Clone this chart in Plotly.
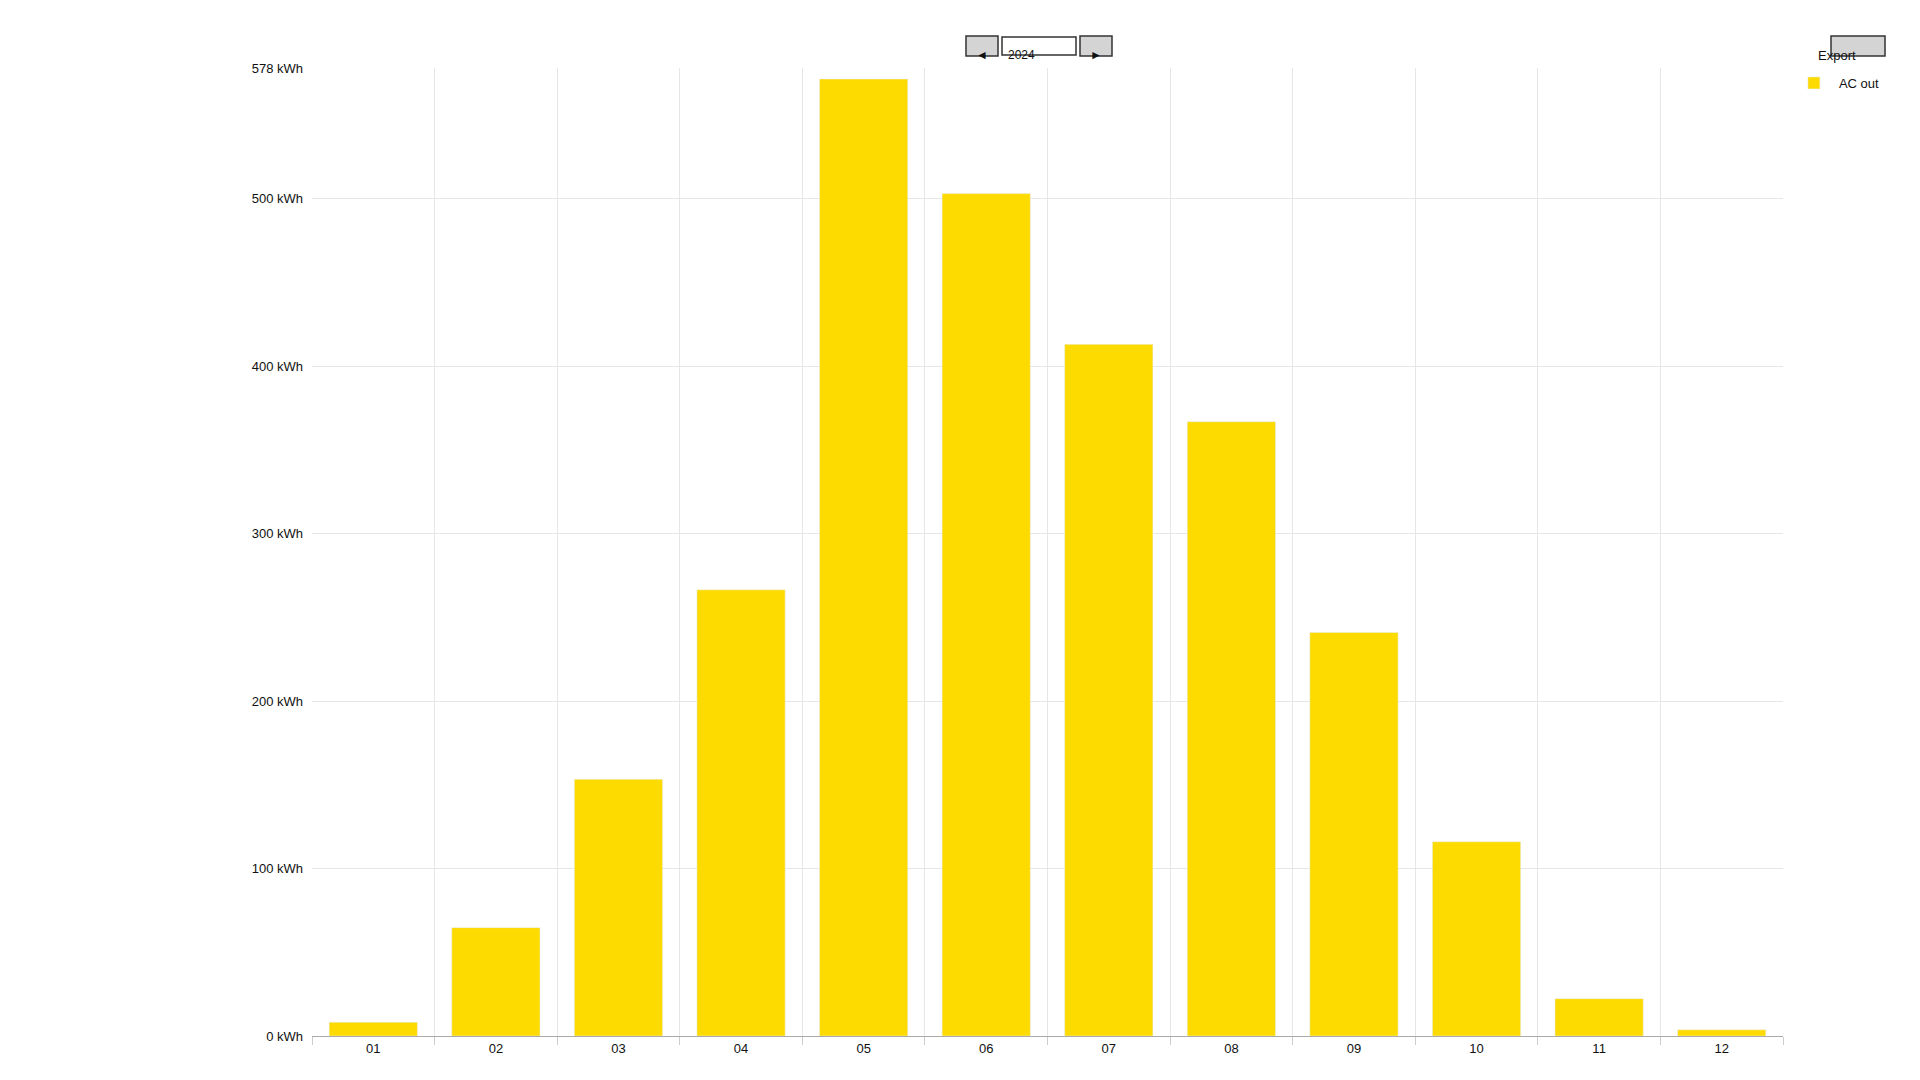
import plotly.graph_objects as go

months = ["01","02","03","04","05","06","07","08","09","10","11","12"]
ac_out = [8.2, 64.7, 153.3, 266.4, 571.4, 503, 413, 366.8, 241, 116, 22.3, 3.7]
y_ticks = [0, 100, 200, 300, 400, 500, 578]
y_labels = [f"{v} kWh" for v in y_ticks]

xs = list(range(1, len(months) + 1))
bounds = [i + 0.5 for i in range(0, len(months) + 1)]

fig = go.Figure(go.Bar(x=xs, y=ac_out, name="AC out", marker_color="#FEDB00",
                       width=0.72, showlegend=True))

fig.update_layout(
    width=1920, height=1080, paper_bgcolor="white", plot_bgcolor="white",
    margin=dict(l=304, r=145, t=60, b=52),
    font=dict(family="Liberation Sans, Arial", size=13, color="#111"),
    showlegend=True,
    legend=dict(x=1.004, y=1.0, xanchor="left", yanchor="top", font=dict(size=13),
                itemwidth=40, bgcolor="rgba(0,0,0,0)"),
    xaxis=dict(range=[0.5, 12.5], tickvals=xs, ticktext=months, showgrid=False,
               ticks="", showline=True, linecolor="#aaa", zeroline=False,
               minor=dict(tickvals=bounds, showgrid=True, gridcolor="#e6e6e6",
                          ticks="outside", ticklen=8, tickcolor="#ccc")),
    yaxis=dict(range=[0, 578], tickvals=y_ticks, ticktext=y_labels, showgrid=True,
               gridcolor="#e6e6e6", zeroline=False, ticks="", ticklabelstandoff=8),
)

def box(x0, x1, y0, y1, fill):
    fig.add_shape(type="rect", xref="paper", yref="paper", x0=x0, x1=x1, y0=y0, y1=y1,
                  line=dict(color="#333", width=1.5), fillcolor=fill)

W = 1920 - 304 - 145
H = 1080 - 60 - 52
px = lambda p: (p - 304) / W
py = lambda p: (1080 - 52 - p) / H

box(px(958), px(990), py(48), py(28), "#d4d4d4")
box(px(994), px(1068), py(47), py(29), "white")
box(px(1072), px(1104), py(48), py(28), "#d4d4d4")
box(px(1823), px(1877), py(48), py(28), "#d4d4d4")
fig.add_annotation(xref="paper", yref="paper", x=px(974), y=py(38), text="◄", showarrow=False, font=dict(size=12))
fig.add_annotation(xref="paper", yref="paper", x=px(998), y=py(38), text="2024", xanchor="left", showarrow=False, font=dict(size=12))
fig.add_annotation(xref="paper", yref="paper", x=px(1088), y=py(38), text="►", showarrow=False, font=dict(size=12))
fig.add_annotation(xref="paper", yref="paper", x=px(1850), y=py(38), text="Export", showarrow=False, font=dict(size=13))

fig.write_html("out.html")
